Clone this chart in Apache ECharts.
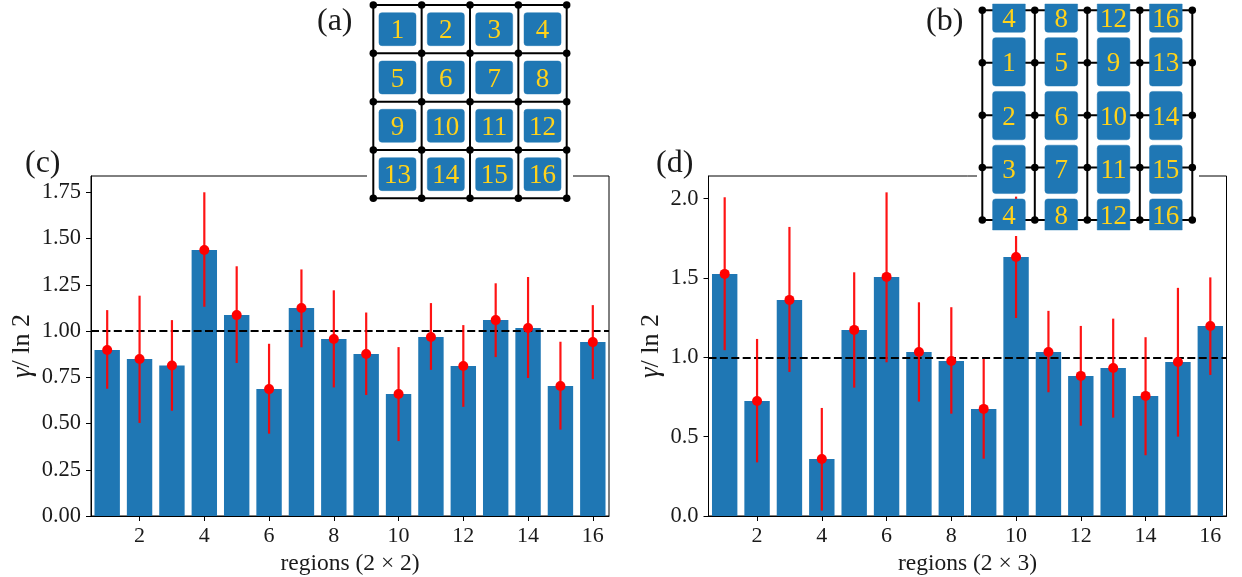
<!DOCTYPE html>
<html>
<head>
<meta charset="utf-8">
<style>html,body{margin:0;padding:0;background:#fff}#c{width:1242px;height:577px}</style>
<script src="https://cdn.jsdelivr.net/npm/echarts@6/dist/echarts.min.js"></script>
</head>
<body>
<div id="c"></div>
<script>
const regions = ['1','2','3','4','5','6','7','8','9','10','11','12','13','14','15','16'];

const valuesC = [0.897,0.849,0.814,1.438,1.086,0.686,1.124,0.957,0.876,0.660,0.968,0.811,1.059,1.016,0.703,0.940];
const lowC    = [0.688,0.503,0.569,1.131,0.827,0.445,0.912,0.695,0.654,0.405,0.790,0.590,0.859,0.746,0.467,0.740];
const highC   = [1.113,1.191,1.059,1.750,1.350,0.931,1.333,1.220,1.100,0.913,1.151,1.032,1.258,1.292,0.942,1.140];

const valuesD = [1.526,0.725,1.362,0.359,1.173,1.507,1.034,0.977,0.675,1.633,1.034,0.883,0.933,0.757,0.971,1.198];
const lowD    = [1.045,0.338,0.908,0.034,0.809,0.969,0.721,0.645,0.361,1.248,0.780,0.569,0.620,0.383,0.500,0.889];
const highD   = [2.009,1.116,1.822,0.681,1.536,2.040,1.347,1.316,0.990,2.013,1.293,1.198,1.244,1.127,1.438,1.504];

const yTicksC = [0,0.25,0.5,0.75,1,1.25,1.5,1.75];
const yTicksD = [0,0.5,1,1.5,2];

const insetRowsA = [['1','2','3','4'],['5','6','7','8'],['9','10','11','12'],['13','14','15','16']];
const insetRowsB = [['4','8','12','16'],['1','5','9','13'],['2','6','10','14'],['3','7','11','15'],['4','8','12','16']];

const SERIF = '"Liberation Serif", "DejaVu Serif", serif';
const INK = '#1a1a1a';
const BLUE = '#1f77b4';
const GOLD = '#ffd21a';

const chart = echarts.init(document.getElementById('c'), null, {renderer:'canvas'});

function panelAxes(i, xName, yMax, yTicks, digits, nameGap) {
  const x = {
    gridIndex:i, type:'category', data:regions, name:xName, nameLocation:'middle', nameGap:36, nameMoveOverlap:false,
    nameTextStyle:{fontFamily:SERIF,fontSize:23.5,color:INK},
    boundaryGap:true,
    axisLine:{show:true,onZero:false,lineStyle:{color:'#000',width:1}},
    axisTick:{show:true,alignWithLabel:true,length:5,interval:(k)=>k%2===1,lineStyle:{color:'#000',width:1}},
    axisLabel:{show:true,interval:(k)=>k%2===1,margin:9,fontFamily:SERIF,fontSize:22,color:INK},
    splitLine:{show:false}
  };
  const y = {
    gridIndex:i, type:'value', min:0, max:yMax,
    name:'{g|γ}/ ln 2', nameLocation:'middle', nameGap:nameGap, nameMoveOverlap:false,
    nameTextStyle:{fontFamily:SERIF,fontSize:26,color:INK,rich:{g:{fontFamily:SERIF,fontStyle:'italic',fontSize:27,color:INK}}},
    axisLine:{show:true,lineStyle:{color:'#000',width:1}},
    axisTick:{show:true,length:5,customValues:yTicks,lineStyle:{color:'#000',width:1}},
    axisLabel:{show:true,margin:10,padding:[4,0,0,0],customValues:yTicks,formatter:(v)=>v.toFixed(digits),fontFamily:SERIF,fontSize:22.5,color:INK},
    splitLine:{show:false}
  };
  return {x,y};
}

function hiddenAxis(i, min, max, inverse) {
  return {gridIndex:i,type:'value',min,max,inverse:!!inverse,show:false,splitLine:{show:false}};
}

function panelSeries(i, values, low, high) {
  return [
    {type:'bar',xAxisIndex:i,yAxisIndex:i,data:values,barWidth:25.4,itemStyle:{color:BLUE},z:2,silent:true,
     markLine:{silent:true,symbol:'none',label:{show:false},animation:false,z:3,
       lineStyle:{color:'#000',width:2,type:[8,3.4]},data:[{yAxis:1}]}},
    {type:'custom',xAxisIndex:i,yAxisIndex:i,z:4,silent:true,clip:false,
     data:regions.map((_,k)=>[k,low[k],high[k]]),
     encode:{x:0,y:[1,2]},
     renderItem:(p,api)=>{
       const a=api.coord([api.value(0),api.value(1)]), b=api.coord([api.value(0),api.value(2)]);
       return {type:'line',shape:{x1:a[0],y1:a[1],x2:b[0],y2:b[1]},style:{stroke:'rgba(255,0,0,0.92)',lineWidth:2.2}};
     }},
    {type:'scatter',xAxisIndex:i,yAxisIndex:i,z:5,silent:true,symbol:'circle',symbolSize:10,
     data:values.map((v,k)=>[k,v]),itemStyle:{color:'#ff0000',opacity:1}}
  ];
}

function latticeSeries(axis, lw) {
  const segs=[], nodes=[];
  for(let k=0;k<=4;k++){segs.push([k,0,k,4]);segs.push([0,k,4,k]);}
  for(let r=0;r<=4;r++)for(let c=0;c<=4;c++)nodes.push([c,r]);
  return [
    {type:'custom',xAxisIndex:axis,yAxisIndex:axis,z:10,silent:true,clip:false,data:segs,
     encode:{x:[0,2],y:[1,3]},
     renderItem:(p,api)=>{
       const a=api.coord([api.value(0),api.value(1)]), b=api.coord([api.value(2),api.value(3)]);
       return {type:'line',shape:{x1:a[0],y1:a[1],x2:b[0],y2:b[1]},style:{stroke:'#000',lineWidth:lw}};
     }},
    {type:'scatter',xAxisIndex:axis,yAxisIndex:axis,z:13,silent:true,symbol:'circle',symbolSize:7.5,clip:false,
     data:nodes,itemStyle:{color:'#000',opacity:1}}
  ];
}

function boxSeries(axis, rows, w, h, dx, dy, fs) {
  const data=[];
  rows.forEach((row,r)=>row.forEach((t,c)=>data.push([c+dx,r+dy,t])));
  return {type:'custom',xAxisIndex:axis,yAxisIndex:axis,z:12,silent:true,clip:false,data,
    encode:{x:0,y:1},
    renderItem:(p,api)=>{
      const m=api.coord([api.value(0),api.value(1)]), s=api.size([w,h]);
      const t=data[p.dataIndex][2];
      const cs=p.coordSys;
      const y0=m[1]-s[1]/2, y1=m[1]+s[1]/2;
      const top=Math.max(y0,cs.y), bot=Math.min(y1,cs.y+cs.height);
      const rt=top>y0?0:3, rb=bot<y1?0:3;
      return {type:'group',children:[
        {type:'rect',shape:{x:m[0]-s[0]/2,y:top,width:s[0],height:bot-top,r:[rt,rt,rb,rb]},
         style:{fill:BLUE,stroke:'rgba(31,119,180,0.45)',lineWidth:1}},
        {type:'text',style:{text:t,x:m[0],y:(top+bot)/2+2,textAlign:'center',textVerticalAlign:'middle',
          fill:GOLD,font:fs+'px '+SERIF}}
      ]};
    }};
}

const c = panelAxes(0,'regions (2 × 2)',1.838,yTicksC,2,55);
const d = panelAxes(1,'regions (2 × 3)',2.143,yTicksD,1,44);
const gridBase = {outerBoundsMode:'none',containLabel:false};
const gridStyle = Object.assign({show:true,borderColor:'#000',borderWidth:1,backgroundColor:'transparent'},gridBase);

function mask(x,y,w,h){return {type:'rect',silent:true,z:8,shape:{x,y,width:w,height:h},style:{fill:'#fff'}};}
function tag(t,x,y){return {type:'text',silent:true,z:20,style:{text:t,x,y,textAlign:'left',textVerticalAlign:'middle',fill:INK,font:'32px '+SERIF}};}

chart.setOption({
  animation:false,
  backgroundColor:'#fff',
  grid:[
    Object.assign({left:91,top:176,width:518,height:340},gridStyle),
    Object.assign({left:708.5,top:176,width:518,height:340},gridStyle),
    Object.assign({left:373.3,top:5,width:193.4,height:193.3},gridBase),
    Object.assign({left:982.3,top:10.3,width:210,height:209.7},gridBase),
    Object.assign({left:982.8,top:4,width:209.2,height:226},gridBase)
  ],
  xAxis:[c.x,d.x,hiddenAxis(2,0,4),hiddenAxis(3,0,4),hiddenAxis(4,0,4)],
  yAxis:[c.y,d.y,hiddenAxis(2,0,4,true),hiddenAxis(3,0,4,true),hiddenAxis(4,-0.0763,4.128,true)],
  graphic:{elements:[
    mask(367,0,206,200),
    mask(977,0,222,196),
    mask(977,199.5,222,36.5),
    tag('(a)',317,22),
    tag('(b)',926,22),
    tag('(c)',25,164),
    tag('(d)',656,164)
  ]},
  series:[
    ...panelSeries(0,valuesC,lowC,highC),
    ...panelSeries(1,valuesD,lowD,highD),
    ...latticeSeries(2,2),
    ...latticeSeries(3,2),
    boxSeries(2,insetRowsA,0.766,0.683,0.5,0.5,27),
    boxSeries(4,insetRowsB,0.625,0.9,0.5,0,27)
  ]
});
</script>
</body>
</html>
